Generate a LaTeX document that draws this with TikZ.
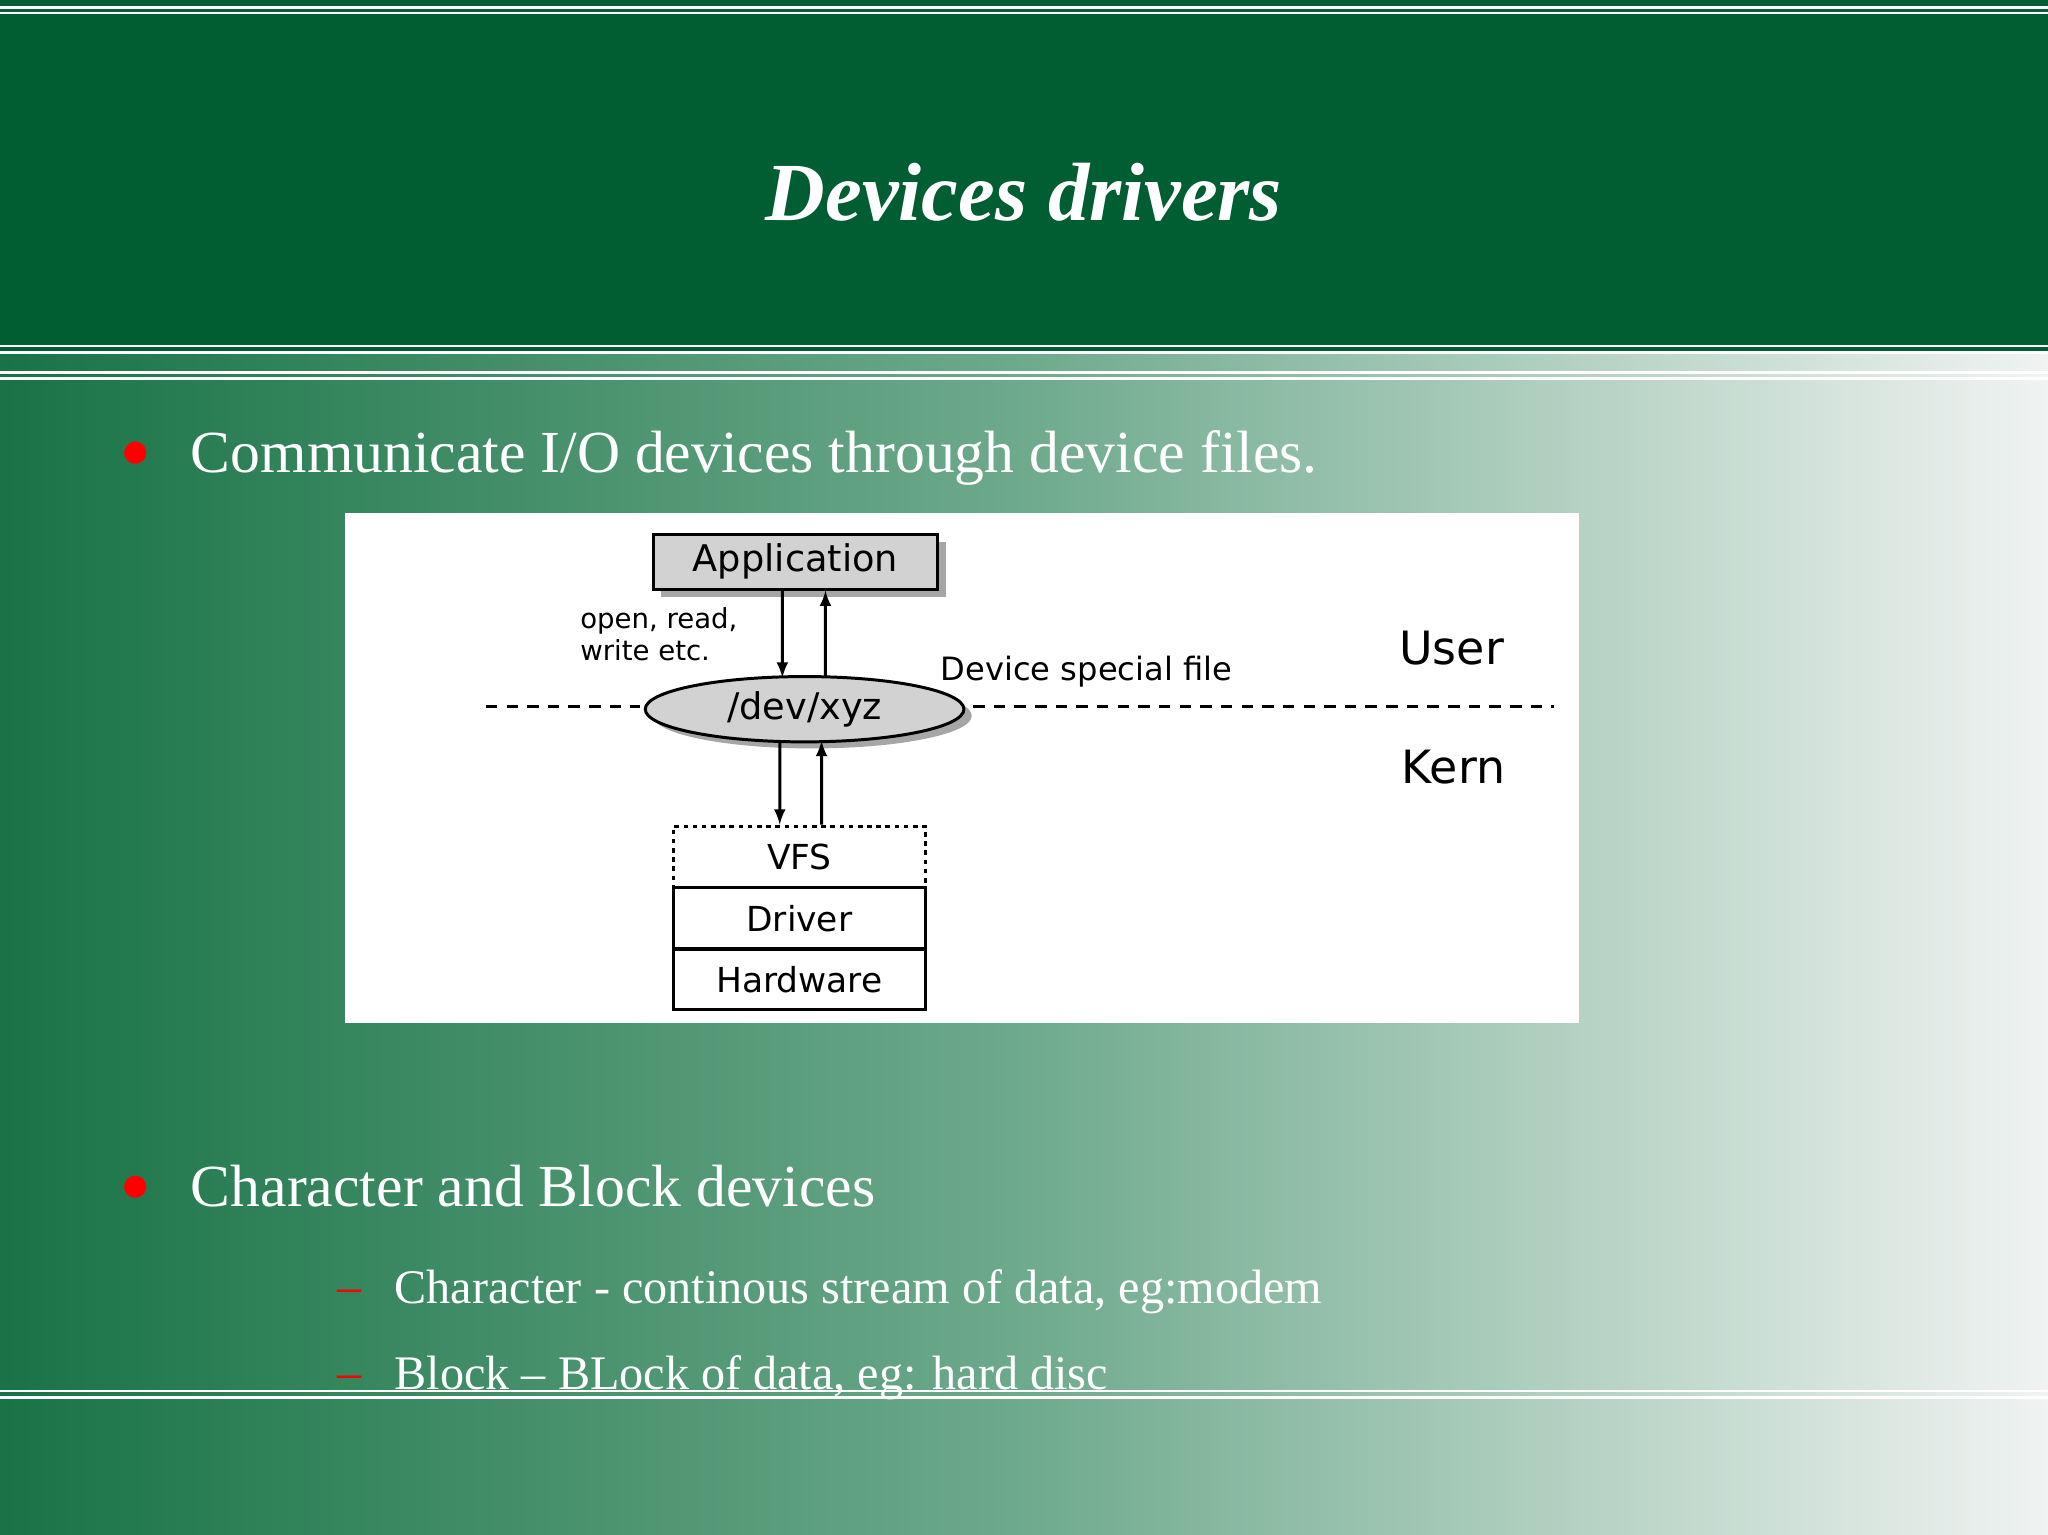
\documentclass[tikz,border=0pt]{standalone}
\usepackage{fontspec}
\usetikzlibrary{shapes.geometric}
\setmainfont{Liberation Serif}
\newfontfamily\dsans{DejaVu Sans}
\definecolor{hdr}{RGB}{0,94,50}
\definecolor{gL}{RGB}{25,115,70}
\definecolor{gM}{RGB}{110,170,140}
\definecolor{gR}{RGB}{240,243,242}
\begin{document}
\begin{tikzpicture}[x=0.02cm,y=-0.02cm,
  wl/.style={white,line width=1.2pt},
  gbox/.style={draw=black,line width=1.3pt,fill=gray!35},
  arr/.style={-latex,line width=1.3pt},
  dl/.style={font=\dsans\fontsize{14}{16}\selectfont},
  bul/.style={text=white,anchor=base west,font=\fontsize{26}{30}\selectfont},
  sub/.style={text=white,anchor=base west,font=\fontsize{21}{25}\selectfont}]
\useasboundingbox (0,0) rectangle (1568,1175);
\shade[left color=gL,right color=gR,middle color=gM] (0,0) rectangle (1568,1175);
\fill[hdr] (0,0) rectangle (1568,270);
\foreach \y in {6,10,265,270,285,290,1065,1070} \draw[wl] (0,\y) -- (1568,\y);
\node[text=white,font=\fontsize{36}{40}\selectfont\bfseries\itshape] (title) at (784,147) {Devices drivers};
\node[text=red,anchor=base] (b1) at (104,358) {\fontsize{26}{30}\selectfont$\bullet$};
\node[bul] (t1) at (140,362) {Communicate I/O devices through device files.};
\node[text=red,anchor=base] (b2) at (104,920) {\fontsize{26}{30}\selectfont$\bullet$};
\node[bul] (t2) at (140,924) {Character and Block devices};
\node[text=red,anchor=base west,font=\fontsize{21}{25}\selectfont] (d1) at (252,997) {--};
\node[sub] (s1) at (296,998) {Character - continous stream of data, eg:modem};
\node[text=red,anchor=base west,font=\fontsize{21}{25}\selectfont] (d2) at (252,1063) {--};
\node[sub] (s2) at (296,1064) {Block -- BLock of data, eg: hard disc};
% diagram
\fill[white] (264,393) rectangle (1209,783);
\draw[line width=1pt,dash pattern=on 5pt off 4pt] (372,541) -- (490,541);
\draw[line width=1pt,dash pattern=on 5pt off 4pt] (745,541) -- (1190,541);
\fill[gray!70] (506,415) rectangle (724,457);
\node[gbox,minimum width=218*0.02cm,minimum height=42*0.02cm,inner sep=0,font=\dsans\fontsize{16}{18}\selectfont] (app) at (609,430) {Application};
\fill[gray!70] (622,548) ellipse [x radius=122, y radius=25];
\node[draw,ellipse,line width=1.3pt,fill=gray!35,minimum width=244*0.02cm,minimum height=50*0.02cm,inner sep=0,font=\dsans\fontsize{16}{18}\selectfont] (dev) at (616,543) {/dev/xyz};
\node[draw,line width=1.3pt,dash pattern=on 2pt off 2pt,minimum width=193*0.02cm,minimum height=47*0.02cm,inner sep=0,font=\dsans\fontsize{15}{17}\selectfont] (vfs) at (612,656) {VFS};
\node[draw,line width=1.3pt,minimum width=193*0.02cm,minimum height=47*0.02cm,inner sep=0,font=\dsans\fontsize{15}{17}\selectfont] (drv) at (612,703) {Driver};
\node[draw,line width=1.3pt,minimum width=193*0.02cm,minimum height=46*0.02cm,inner sep=0,font=\dsans\fontsize{15}{17}\selectfont] (hw) at (612,750) {Hardware};
\draw[arr] ([xshift=-0.2cm]app.south) -- ([xshift=-0.34cm,yshift=-0.04cm]dev.north);
\draw[arr] ([xshift=0.32cm,yshift=-0.04cm]dev.north) -- ([xshift=0.46cm]app.south);
\draw[arr] ([xshift=-0.38cm,yshift=0.04cm]dev.south) -- ([xshift=-0.3cm]vfs.north);
\draw[arr] ([xshift=0.34cm]vfs.north) -- ([xshift=0.26cm,yshift=0.04cm]dev.south);
\node[font=\dsans\fontsize{12}{14}\selectfont,align=left,anchor=north west,inner sep=0] (ops) at (444,465) {open, read,\\write etc.};
\node[dl,anchor=west,inner sep=0] (dsf) at (720,514) {Device special file};
\node[font=\dsans\fontsize{20}{22}\selectfont,anchor=west,inner sep=0] (user) at (1071,496) {User};
\node[font=\dsans\fontsize{20}{22}\selectfont,anchor=west,inner sep=0] (kern) at (1073,587) {Kern};
\end{tikzpicture}
\end{document}
